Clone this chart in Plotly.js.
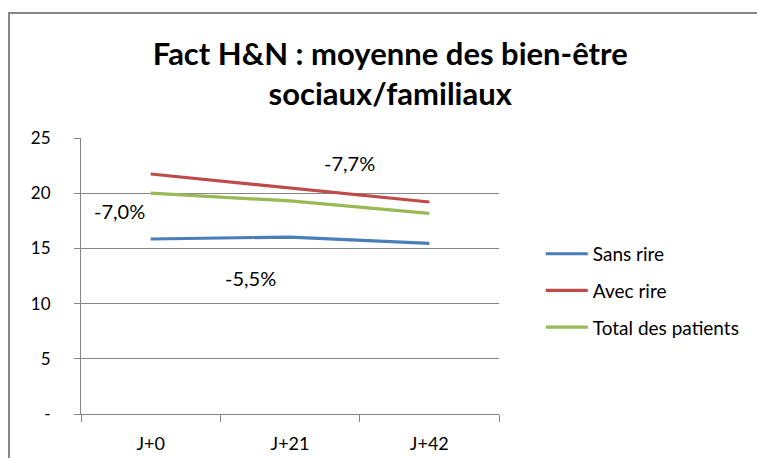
<!DOCTYPE html>
<html>
<head>
<meta charset="utf-8">
<script src="https://cdn.plot.ly/plotly-3.0.1.min.js"></script>
<style>
html,body{margin:0;padding:0;background:#fff;overflow:hidden;width:757px;height:458px;}
#frame{position:absolute;left:8px;top:12px;width:760px;height:460px;border-left:2px solid #888;border-top:2px solid #888;}
#chart{position:absolute;left:0;top:0;width:747px;height:444px;}
</style>
</head>
<body>
<div id="frame"><div id="chart"></div></div>
<script>
const categories = ["J+0", "J+21", "J+42"];
const seriesNames = ["Sans rire", "Avec rire", "Total des patients"];
const sansRire = [15.85, 16.03, 15.46];
const avecRire = [21.74, 20.44, 19.2];
const totalPatients = [20.0, 19.3, 18.18];
const yTickVals = [0, 5, 10, 15, 20, 25];
const yTickText = ["-", "5", "10", "15", "20", "25"];
const pctLabels = ["-7,7%", "-7,0%", "-5,5%"];
const colors = ["#4A7EBB", "#BE4B48", "#98B954"];

const font = "Lato, 'Open Sans', sans-serif";
const values = [sansRire, avecRire, totalPatients];
const traces = values.map((v, i) => ({
  x: categories, y: v, type: "scatter", mode: "lines", name: seriesNames[i],
  line: {color: colors[i], width: 3.2}, legendgroup: "g" + i, hoverinfo: "skip"
}));

const layout = {
  width: 747, height: 444,
  margin: {l: 71, r: 258, t: 124, b: 44},
  paper_bgcolor: "#fff", plot_bgcolor: "#fff",
  font: {family: font, size: 17, color: "#000"},
  title: {text: "<b>Fact H&N : moyenne des bien-être<br>sociaux/familiaux</b>",
    font: {family: font, size: 31, color: "#000"},
    xref: "container", x: 0.509, xanchor: "center", yref: "container", y: 0.886, yanchor: "middle"},
  showlegend: true,
  legend: {x: 1.1, xanchor: "left", y: 0.446, yanchor: "middle", traceorder: "grouped", tracegroupgap: 9,
    itemwidth: 42,
    font: {family: font, size: 19, color: "#000"}, bgcolor: "rgba(0,0,0,0)"},
  xaxis: {type: "category", range: [-0.5, 2.5], tickson: "boundaries", ticks: "outside", ticklen: 7,
    tickcolor: "#868686", showline: true, linecolor: "#868686", linewidth: 1, showgrid: false,
    zeroline: false, ticklabelstandoff: 13, tickfont: {family: font, size: 18, color: "#000"}, fixedrange: true},
  yaxis: {range: [0, 25], tickvals: yTickVals, ticktext: yTickText, ticks: "outside", ticklen: 6,
    tickcolor: "#868686", showline: true, linecolor: "#868686", linewidth: 1, showgrid: true,
    gridcolor: "#868686", gridwidth: 1, zeroline: false, ticklabelstandoff: 20,
    tickfont: {family: font, size: 17, color: "#000"}, fixedrange: true},
  annotations: [
    {x: 1.43, y: 22.7, xref: "x", yref: "y", text: pctLabels[0], showarrow: false, font: {family: font, size: 20, color: "#000"}},
    {x: -0.226, y: 18.4, xref: "x", yref: "y", text: pctLabels[1], showarrow: false, font: {family: font, size: 20, color: "#000"}},
    {x: 0.718, y: 12.3, xref: "x", yref: "y", text: pctLabels[2], showarrow: false, font: {family: font, size: 20, color: "#000"}}
  ]
};
Plotly.newPlot("chart", traces, layout, {displayModeBar: false, staticPlot: true});
</script>
</body>
</html>
